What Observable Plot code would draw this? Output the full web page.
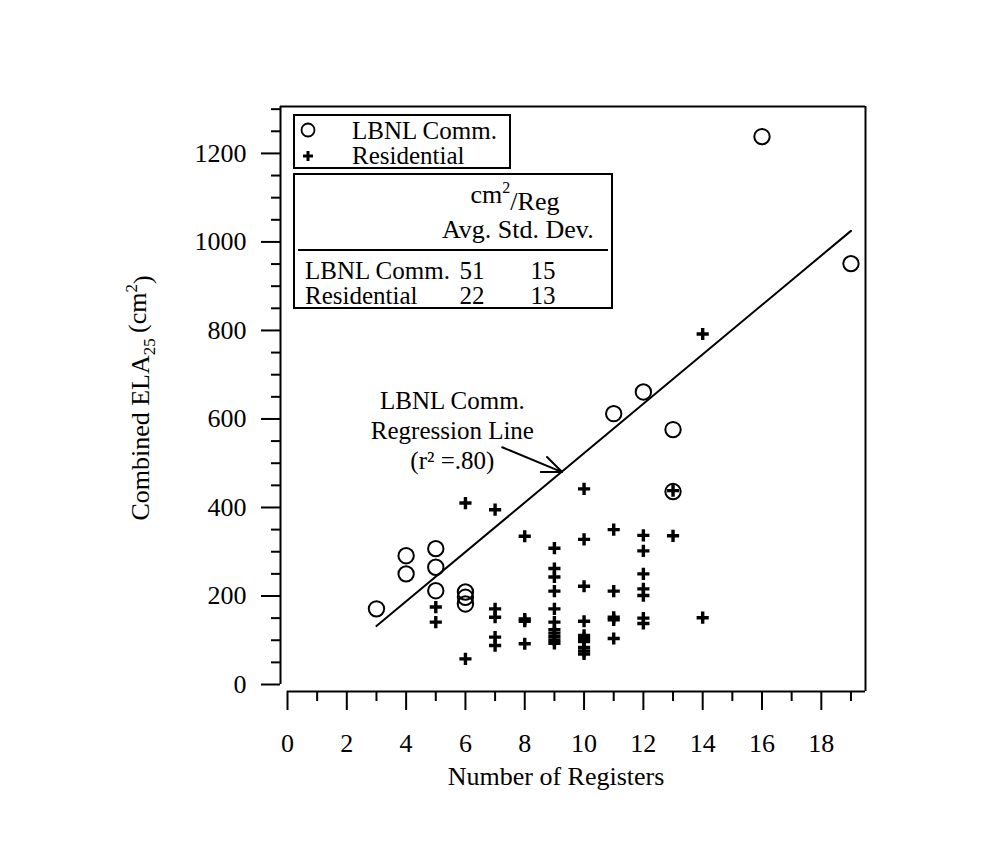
<!DOCTYPE html>
<html><head><meta charset="utf-8">
<script src="https://cdn.jsdelivr.net/npm/d3@7"></script>
<script src="https://cdn.jsdelivr.net/npm/@observablehq/plot@0.6"></script>
<style>
html,body{margin:0;padding:0;background:#fff}
#wrap{position:relative;width:1000px;height:867px;overflow:hidden}
#wrap svg{display:block}
</style>
</head><body><div id="wrap"></div>
<script>
// ---- data ----
const commRegisters = [3, 4, 4, 5, 5, 5, 6, 6, 6, 11, 12, 13, 13, 16, 19];
const commELA       = [171, 291, 250, 307, 265, 212, 209, 197, 182, 612, 661, 576, 436, 1238, 951];

const resRegisters = [5,5, 6,6, 7,7,7,7,7, 8,8,8,8,
  9,9,9,9,9,9,9,9,9,9,9, 10,10,10,10,10,10,10,10,10,10,
  11,11,11,11,11, 12,12,12,12,12,12,12, 13,13, 14,14];
const resELA = [175,141, 410,58, 395,171,152,107,88, 335,148,143,92,
  308,262,243,211,171,141,124,116,108,100,93, 442,328,222,143,111,104,97,84,76,69,
  350,211,152,146,104, 337,302,250,216,201,150,138, 438,336, 792,151];

const regX = [3, 19];
const regY = [132, 1025];

const arrowFrom = [7.24, 536];
const arrowTo = [9.26, 480];
const annotationLines = ["LBNL Comm.", "Regression Line", "(r\u00B2 =.80)"];
const annotationAt = [5.56, 576];

const xMajor = [0, 2, 4, 6, 8, 10, 12, 14, 16, 18];
const xMinor = [1, 3, 5, 7, 9, 11, 13, 15, 17, 19];
const yMajor = [0, 200, 400, 600, 800, 1000, 1200];
const yMinor = [50,100,150,250,300,350,450,500,550,650,700,750,850,900,950,1050,1100,1150,1250,1300];

const legendLabels = ["LBNL Comm.", "Residential"];
const tableRows = [["LBNL Comm.", "51", "15"], ["Residential", "22", "13"]];

// ---- chart ----
const xDom = [-0.236, 19.49];
const yDom = [-15.8, 1306];
const commercial = commRegisters.map((x, i) => ({x, y: commELA[i]}));
const residential = resRegisters.map((x, i) => ({x, y: resELA[i]}));
const regression = regX.map((x, i) => ({x, y: regY[i]}));
const font = "'Liberation Serif','Times New Roman',serif";

const chart = Plot.plot({
  width: 1000, height: 867,
  marginLeft: 280, marginRight: 135, marginTop: 106, marginBottom: 176,
  x: {domain: xDom, axis: null},
  y: {domain: yDom, axis: null},
  style: {fontFamily: font, background: "white", color: "black"},
  marks: [
    Plot.ruleY([yDom[1]], {x1: xDom[0], x2: xDom[1], stroke: "black", strokeWidth: 2}),
    Plot.ruleX([xDom[1]], {y1: yDom[0], y2: yDom[1], stroke: "black", strokeWidth: 2}),
    Plot.ruleX([xDom[0]], {y1: 0, y2: yDom[1], stroke: "black", strokeWidth: 2}),
    Plot.ruleY([yDom[0]], {x1: 0, x2: xDom[1], stroke: "black", strokeWidth: 2}),
    Plot.axisY(yMajor, {anchor: "left", tickSize: 19, tickPadding: 15, fontSize: 26, strokeWidth: 2, label: null, tickFormat: d => String(d)}),
    Plot.axisY(yMinor, {anchor: "left", tickSize: 9, strokeWidth: 2, label: null, tickFormat: () => ""}),
    Plot.axisX(xMajor, {anchor: "bottom", tickSize: 19, tickPadding: 23, fontSize: 26, strokeWidth: 2, label: null, tickFormat: d => String(d)}),
    Plot.axisX(xMinor, {anchor: "bottom", tickSize: 10, strokeWidth: 2, label: null, tickFormat: () => ""}),
    Plot.line(regression, {x: "x", y: "y", stroke: "black", strokeWidth: 2}),
    Plot.arrow([{x1: arrowFrom[0], y1: arrowFrom[1], x2: arrowTo[0], y2: arrowTo[1]}],
      {x1: "x1", y1: "y1", x2: "x2", y2: "y2", stroke: "black", strokeWidth: 2, headLength: 16, headAngle: 45}),
    Plot.text([annotationLines.join("\n")], {x: () => annotationAt[0], y: () => annotationAt[1], text: d => d,
      fontSize: 25, lineHeight: 1.2, textAnchor: "middle", lineAnchor: "middle", fill: "black"}),
    Plot.dot(commercial, {x: "x", y: "y", r: 7.7, stroke: "black", strokeWidth: 2, fill: "none"}),
    Plot.dot(residential, {x: "x", y: "y", symbol: "plus", r: 4, stroke: "black", strokeWidth: 3.4})
  ]
});
document.getElementById("wrap").appendChild(chart);

// ---- titles, legend and table (added onto the svg) ----
const svg = d3.select(chart);
const g = svg.append("g").attr("font-family", font).attr("fill", "black").attr("text-anchor", "start");

// y title
const yt = g.append("text").attr("transform", "translate(140,398) rotate(-90)")
  .attr("text-anchor", "middle").attr("dy", "0.35em").attr("font-size", 26);
yt.append("tspan").text("Combined ELA");
yt.append("tspan").attr("font-size", 17).attr("dy", "0.35em").text("25");
yt.append("tspan").attr("dy", "-0.35em").text("\u2009(cm");
yt.append("tspan").attr("font-size", 17).attr("dy", "-0.55em").text("2");
yt.append("tspan").attr("dy", "0.55em").text(")");

// x title
g.append("text").attr("x", 556).attr("y", 785).attr("text-anchor", "middle")
  .attr("font-size", 26).text("Number of Registers");

// legend box
const lg = g.append("g");
lg.append("rect").attr("x", 294).attr("y", 115).attr("width", 216).attr("height", 53)
  .attr("fill", "white").attr("stroke", "black").attr("stroke-width", 2);
lg.append("circle").attr("cx", 308).attr("cy", 130).attr("r", 6.5)
  .attr("fill", "none").attr("stroke", "black").attr("stroke-width", 1.8);
lg.append("path").attr("d", "M303,156H313M308,151V161").attr("stroke", "black").attr("stroke-width", 3);
lg.append("text").attr("x", 352).attr("y", 139).attr("font-size", 25).attr("text-anchor", "start").text(legendLabels[0]);
lg.append("text").attr("x", 352).attr("y", 164).attr("font-size", 25).attr("text-anchor", "start").text(legendLabels[1]);

// table box
const tb = g.append("g");
tb.append("rect").attr("x", 294).attr("y", 174).attr("width", 318).attr("height", 134)
  .attr("fill", "white").attr("stroke", "black").attr("stroke-width", 2);
const hd = tb.append("text").attr("x", 515).attr("y", 203).attr("text-anchor", "middle").attr("font-size", 26);
hd.append("tspan").text("cm");
hd.append("tspan").attr("font-size", 16).attr("dy", "-0.65em").text("2");
hd.append("tspan").attr("dy", "0.65em").text("/Reg");
tb.append("text").attr("x", 442).attr("y", 238).attr("font-size", 26).attr("text-anchor", "start").text("Avg. Std. Dev.");
tb.append("line").attr("x1", 298).attr("x2", 608).attr("y1", 250).attr("y2", 250)
  .attr("stroke", "black").attr("stroke-width", 2);
tableRows.forEach((row, i) => {
  const y = 279 + i * 25;
  tb.append("text").attr("x", 305).attr("y", y).attr("font-size", 25).attr("text-anchor", "start").text(row[0]);
  tb.append("text").attr("x", 472).attr("y", y).attr("text-anchor", "middle").attr("font-size", 25).text(row[1]);
  tb.append("text").attr("x", 543).attr("y", y).attr("text-anchor", "middle").attr("font-size", 25).text(row[2]);
});
</script>
</body></html>
